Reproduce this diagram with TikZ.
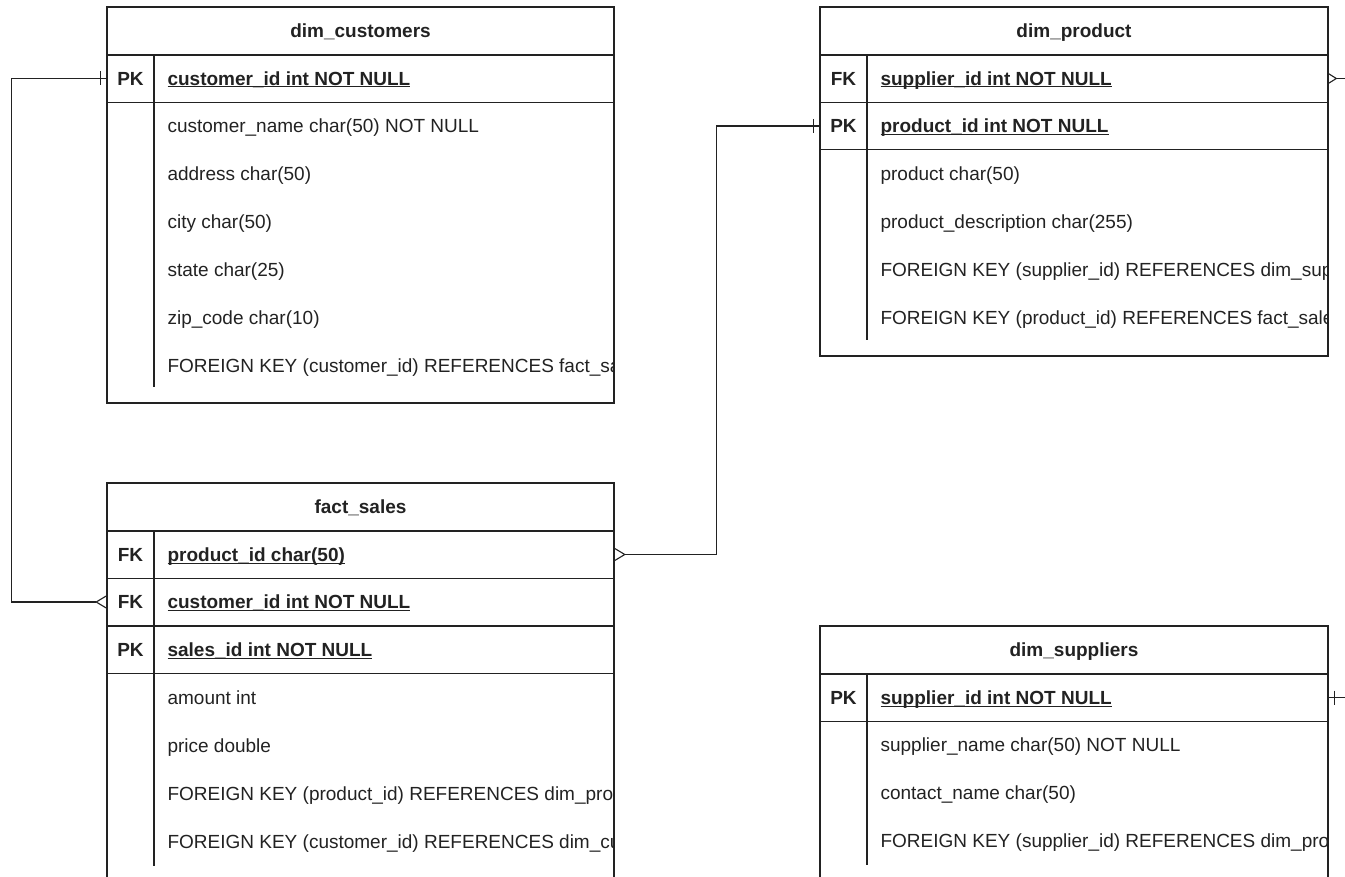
\documentclass[tikz,border=0pt]{standalone}
\usepackage{fontspec}
\setmainfont{Liberation Sans}
\definecolor{erink}{RGB}{34,34,34}
\newcommand{\keyname}[1]{\underline{\smash{#1}}}

\begin{document}
\begin{tikzpicture}[x=1pt, y=-1pt, line width=1.1pt, draw=erink, text=erink, font=\fontsize{19}{22}\selectfont]
\tikzset{
  tabtitle/.style={draw, font=\fontsize{19}{22}\selectfont\bfseries, minimum width=507.5pt, minimum height=48pt, inner sep=0pt, text height=13.6pt, text depth=0pt},
  keyrow/.style={draw, minimum width=507.5pt, minimum height=47.5pt, inner sep=0pt},
  keylabel/.style={font=\fontsize{19}{22}\selectfont\bfseries, inner sep=0pt, text height=13.6pt, text depth=0pt},
  keyfield/.style={anchor=west, font=\fontsize{19}{22}\selectfont\bfseries, inner sep=0pt, text height=13.6pt, text depth=0pt},
  field/.style={anchor=west, inner sep=0pt, text height=13.6pt, text depth=0pt}
}
\useasboundingbox (0,0) rectangle (1345,877);

% dim_customers
\draw (107,7) rectangle (614,403);
\node[tabtitle] (custtitle) at (360.5,31) {dim\_customers};
\node[keyrow] (custpk) at (360.5,78.5) {};
\draw (154,55) -- (154,387);
\node[keylabel] (custpklbl) at (130.5,78.5) {PK};
\begin{scope}
\clip (107,7) rectangle (612,403);
\node[keyfield] (custid) at (167,78.5) {\keyname{customer\_id int NOT NULL}};
\node[field] (custname) at (167,126) {customer\_name char(50) NOT NULL};
\node[field] (custaddr) at (167,174) {address char(50)};
\node[field] (custcity) at (167,222) {city char(50)};
\node[field] (custstate) at (167,270) {state char(25)};
\node[field] (custzip) at (167,318) {zip\_code char(10)};
\node[field] (custfk) at (167,366) {FOREIGN KEY (customer\_id) REFERENCES fact\_sales(customer\_id)};
\end{scope}

% fact_sales
\draw (107,483) rectangle (614,895);
\node[tabtitle] (facttitle) at (360.5,507) {fact\_sales};
\node[keyrow] (factprod) at (360.5,554.5) {};
\node[keyrow] (factcust) at (360.5,602) {};
\node[keyrow] (factsale) at (360.5,650) {};
\draw (154,531) -- (154,866);
\node[keylabel] (factprodlbl) at (130.5,554.5) {FK};
\node[keylabel] (factcustlbl) at (130.5,602) {FK};
\node[keylabel] (factsalelbl) at (130.5,650) {PK};
\begin{scope}
\clip (107,483) rectangle (612,895);
\node[keyfield] (factprodid) at (167,554.5) {\keyname{product\_id char(50)}};
\node[keyfield] (factcustid) at (167,602) {\keyname{customer\_id int NOT NULL}};
\node[keyfield] (factsaleid) at (167,650) {\keyname{sales\_id int NOT NULL}};
\node[field] (factamount) at (167,698) {amount int};
\node[field] (factprice) at (167,746) {price double};
\node[field] (factfkprod) at (167,794) {FOREIGN KEY (product\_id) REFERENCES dim\_product(product\_id)};
\node[field] (factfkcust) at (167,842) {FOREIGN KEY (customer\_id) REFERENCES dim\_customers(customer\_id)};
\end{scope}

% dim_product
\draw (820,7) rectangle (1328,356);
\node[tabtitle] (prodtitle) at (1074,31) {dim\_product};
\node[keyrow] (prodfk) at (1074,78.5) {};
\node[keyrow] (prodpk) at (1074,126) {};
\draw (867,55) -- (867,340);
\node[keylabel] (prodfklbl) at (843.5,78.5) {FK};
\node[keylabel] (prodpklbl) at (843.5,126) {PK};
\begin{scope}
\clip (820,7) rectangle (1326,356);
\node[keyfield] (prodsupid) at (880,78.5) {\keyname{supplier\_id int NOT NULL}};
\node[keyfield] (prodid) at (880,126) {\keyname{product\_id int NOT NULL}};
\node[field] (prodname) at (880,174) {product char(50)};
\node[field] (proddesc) at (880,222) {product\_description char(255)};
\node[field] (prodfksup) at (880,270) {FOREIGN KEY (supplier\_id) REFERENCES dim\_suppliers(supplier\_id)};
\node[field] (prodfkfact) at (880,318) {FOREIGN KEY (product\_id) REFERENCES fact\_sales(product\_id)};
\end{scope}

% dim_suppliers
\draw (820,626) rectangle (1328,895);
\node[tabtitle] (suptitle) at (1074,650) {dim\_suppliers};
\node[keyrow] (suppk) at (1074,697.5) {};
\draw (867,674) -- (867,865);
\node[keylabel] (suppklbl) at (843.5,697.5) {PK};
\begin{scope}
\clip (820,626) rectangle (1326,895);
\node[keyfield] (supid) at (880,697.5) {\keyname{supplier\_id int NOT NULL}};
\node[field] (supname) at (880,745) {supplier\_name char(50) NOT NULL};
\node[field] (supcontact) at (880,793) {contact\_name char(50)};
\node[field] (supfk) at (880,841) {FOREIGN KEY (supplier\_id) REFERENCES dim\_product(supplier\_id)};
\end{scope}

% relations
\draw (custpk.west) -- ++(-95,0) |- ([xshift=-10pt]factcust.west);
\draw ([xshift=-6pt,yshift=7pt]custpk.west) -- ([xshift=-6pt,yshift=-7pt]custpk.west);
\draw ([yshift=6pt]factcust.west) -- ([xshift=-10pt]factcust.west) -- ([yshift=-6pt]factcust.west);

\draw ([xshift=10pt]factprod.east) -- ++(92,0) |- (prodpk.west);
\draw ([yshift=6pt]factprod.east) -- ([xshift=10pt]factprod.east) -- ([yshift=-6pt]factprod.east);
\draw ([xshift=-6pt,yshift=7pt]prodpk.west) -- ([xshift=-6pt,yshift=-7pt]prodpk.west);

\draw ([xshift=8pt]prodfk.east) -- ++(40,0) |- (suppk.east);
\draw ([yshift=5pt]prodfk.east) -- ([xshift=8pt]prodfk.east) -- ([yshift=-5pt]prodfk.east);
\draw ([xshift=6pt,yshift=7pt]suppk.east) -- ([xshift=6pt,yshift=-7pt]suppk.east);
\end{tikzpicture}
\end{document}
